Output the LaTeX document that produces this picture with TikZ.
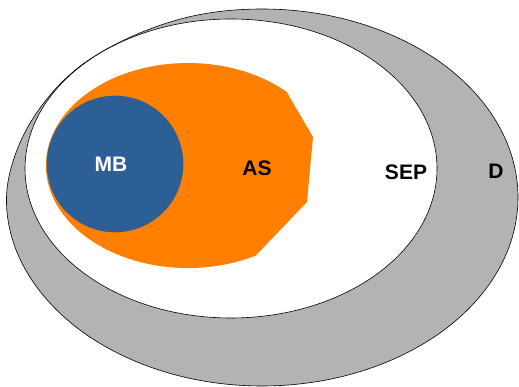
\documentclass[tikz,border=0pt]{standalone}
\usepackage{fontspec}
\setmainfont{Liberation Sans}
\definecolor{dgray}{RGB}{179,179,179}
\definecolor{asorange}{RGB}{255,128,0}
\definecolor{mbblue}{RGB}{44,95,150}
\begin{document}
\begin{tikzpicture}[x=1pt,y=1pt,
  setlabel/.style={font=\fontsize{21}{24}\selectfont\bfseries, inner sep=0pt},
  outline/.style={draw=black, line width=0.6pt}]
\useasboundingbox (0,0) rectangle (519,387);
% D: outer domain, an oval slightly flattened at its upper left
\path[outline, fill=dgray] plot[smooth cycle, tension=0.6] coordinates {
  (518,189.5) (509.3,238.3) (483.7,283.75) (443,322.8) (390,352.7) (328.3,371.6)
  (262,378) (195.7,371.6) (134,351.5) (81,321.5) (43,283) (17.5,238.3)
  (6.5,190) (14.7,140.7) (40.3,95.25) (81,56.2) (134,26.3) (195.7,7.4)
  (262,1) (328.3,7.4) (390,26.3) (443,56.2) (483.7,95.25) (509.3,140.7)};
% SEP
\path[outline, fill=white] (231,218.5) ellipse [x radius=206, y radius=149.5];
% AS: ellipse cut by straight edges on its right side
\fill[asorange] (286.6,295.2) arc [start angle=46, end angle=298.5, x radius=142, y radius=102.5]
  -- (307,185) -- (313,250) -- cycle;
% MB
\fill[mbblue] (115,223) circle [radius=68.3];
% labels
\node[setlabel, text=white] (mb) at (111,223) {MB};
\node[setlabel] (as) at (257,219) {AS};
\node[setlabel] (sep) at (406,215) {SEP};
\node[setlabel] (d) at (496,216) {D};
\end{tikzpicture}
\end{document}
